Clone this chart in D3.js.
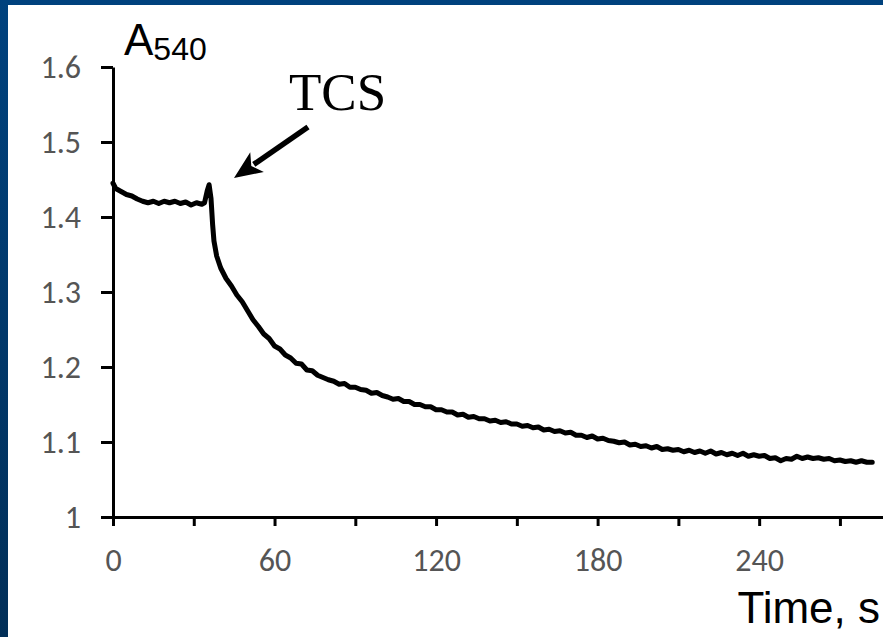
<!DOCTYPE html>
<html>
<head>
<meta charset="utf-8">
<script src="https://cdn.jsdelivr.net/npm/d3@7"></script>
<style>
  html, body { margin: 0; padding: 0; background: #003f7a; }
  svg { display: block; }
</style>
</head>
<body>
<svg id="chart" width="883" height="637"></svg>
<script>
// ---- data ----
const timeS = [0,1,3,5,7,9,11,13,15,17,19,21,23,25,27,29,31,33,34,35,35.7,36.4,37,37.5,38.5,
  40,42,44,46,48,50,52,54,56,58,60,62,64,66,68,70,72,74,76,78,80,82,84,86,88,90,92,94,96,98,
  100,102,104,106,108,110,112,114,116,118,120,122,124,126,128,130,132,134,136,138,140,142,144,146,148,
  150,152,154,156,158,160,162,164,166,168,170,172,174,176,178,180,182,184,186,188,190,192,194,196,198,
  200,202,204,206,208,210,212,214,216,218,220,222,224,226,228,230,232,234,236,238,240,242,244,246,248,
  250,252,254,256,258,260,262,264,266,268,270,272,274,276,278,280,282];
const absorbance = [1.445,1.438,1.434,1.430,1.428,1.424,1.421,1.419,1.421,1.418,1.421,1.419,1.421,1.418,1.420,1.416,1.419,1.417,1.419,1.435,1.443,1.425,1.390,1.368,1.348,
  1.332,1.318,1.308,1.296,1.287,1.275,1.263,1.254,1.244,1.238,1.228,1.224,1.216,1.212,1.205,1.204,1.196,1.195,1.189,1.186,1.183,1.181,1.177,1.178,1.173,1.173,1.170,1.169,1.165,1.166,
  1.162,1.160,1.157,1.158,1.154,1.154,1.150,1.150,1.147,1.147,1.143,1.143,1.140,1.140,1.136,1.137,1.133,1.134,1.131,1.131,1.128,1.129,1.126,1.127,1.124,
  1.124,1.121,1.122,1.119,1.120,1.116,1.117,1.114,1.115,1.112,1.113,1.109,1.109,1.106,1.108,1.104,1.105,1.102,1.101,1.099,1.100,1.096,1.097,1.094,1.095,
  1.092,1.094,1.090,1.091,1.089,1.090,1.087,1.089,1.086,1.088,1.085,1.088,1.084,1.086,1.083,1.085,1.082,1.085,1.081,1.083,1.081,1.082,1.078,1.079,1.075,
  1.078,1.077,1.081,1.078,1.080,1.078,1.079,1.077,1.078,1.075,1.076,1.074,1.075,1.073,1.075,1.073,1.073];
const yTicks = [1, 1.1, 1.2, 1.3, 1.4, 1.5, 1.6];
const yTickLabels = ["1", "1.1", "1.2", "1.3", "1.4", "1.5", "1.6"];
const xTicks = [0, 30, 60, 90, 120, 150, 180, 210, 240, 270];
const xTickLabels = ["0", "", "60", "", "120", "", "180", "", "240", ""];
const yLabelMain = "A";
const yLabelSub = "540";
const xLabel = "Time, s";
const annotation = "TCS";
const xDomain = [0, 286];
const yDomain = [1, 1.6];

// ---- drawing ----
const svg = d3.select("#chart");
const W = 883, H = 637;

const defs = svg.append("defs");
const grad = defs.append("linearGradient").attr("id", "bg").attr("x1", 0).attr("y1", 0).attr("x2", 0).attr("y2", 1);
grad.append("stop").attr("offset", "0%").attr("stop-color", "#00427e");
grad.append("stop").attr("offset", "100%").attr("stop-color", "#022f58");
svg.append("rect").attr("width", W).attr("height", H).attr("fill", "url(#bg)");
svg.append("rect").attr("x", 8).attr("y", 5).attr("width", W - 8).attr("height", H - 5).attr("fill", "#ffffff");

const x = d3.scaleLinear().domain(xDomain).range([113, 883]);
const y = d3.scaleLinear().domain(yDomain).range([517, 67]);

const tickFont = "Carlito, 'Liberation Sans', Arial, sans-serif";

// y axis
const yAxis = d3.axisLeft(y).tickValues(yTicks)
  .tickFormat((d, i) => yTickLabels[i]).tickSize(12).tickPadding(20).tickSizeOuter(0);
const gy = svg.append("g").attr("transform", "translate(113,0)").call(yAxis);
gy.select(".domain").attr("stroke", "#000").attr("stroke-width", 3);
gy.selectAll(".tick line").attr("stroke", "#000").attr("stroke-width", 3);
gy.selectAll(".tick text").attr("fill", "#555").style("font-family", tickFont).style("font-size", "32px");

// x axis
const xAxis = d3.axisBottom(x).tickValues(xTicks)
  .tickFormat((d, i) => xTickLabels[i]).tickSize(9).tickPadding(22).tickSizeOuter(0);
const gx = svg.append("g").attr("transform", "translate(0,517)").call(xAxis);
gx.select(".domain").attr("stroke", "#000").attr("stroke-width", 3);
gx.selectAll(".tick line").attr("stroke", "#000").attr("stroke-width", 3);
gx.selectAll(".tick text").attr("fill", "#555").style("font-family", tickFont).style("font-size", "32px");

// data line
const pts = timeS.map((t, i) => [t, absorbance[i]]);
const line = d3.line().x(d => x(d[0])).y(d => y(d[1]));
svg.append("path").datum(pts).attr("d", line)
  .attr("fill", "none").attr("stroke", "#000").attr("stroke-width", 5)
  .attr("stroke-linejoin", "round").attr("stroke-linecap", "round");

// y label A540
const yl = svg.append("text").attr("x", 124).attr("y", 55)
  .style("font-family", "'Liberation Sans', Arial, sans-serif").attr("fill", "#000");
yl.append("tspan").style("font-size", "44px").text(yLabelMain);
yl.append("tspan").attr("dy", 5).style("font-size", "32px").text(yLabelSub);

// x label
svg.append("text").attr("x", 880).attr("y", 623).attr("text-anchor", "end")
  .style("font-family", "'Liberation Sans', Arial, sans-serif").style("font-size", "44px")
  .attr("fill", "#000").text(xLabel);

// TCS annotation
svg.append("text").attr("x", 289).attr("y", 110)
  .style("font-family", "'Liberation Serif', 'Times New Roman', serif").style("font-size", "53px")
  .attr("fill", "#000").text(annotation);

// arrow
const ax0 = 308, ay0 = 127, ax1 = 234, ay1 = 178;
const ang = Math.atan2(ay1 - ay0, ax1 - ax0);
const headLen = 28, headW = 12;
const bx = ax1 - headLen * Math.cos(ang), by = ay1 - headLen * Math.sin(ang);
svg.append("line").attr("x1", ax0).attr("y1", ay0).attr("x2", bx + 4 * Math.cos(ang)).attr("y2", by + 4 * Math.sin(ang))
  .attr("stroke", "#000").attr("stroke-width", 5.5);
svg.append("path").attr("d", d3.line()([
  [ax1, ay1],
  [bx + headW * Math.sin(ang), by - headW * Math.cos(ang)],
  [bx + 7 * Math.cos(ang), by + 7 * Math.sin(ang)],
  [bx - headW * Math.sin(ang), by + headW * Math.cos(ang)]
]) + "Z").attr("fill", "#000");
</script>
</body>
</html>
